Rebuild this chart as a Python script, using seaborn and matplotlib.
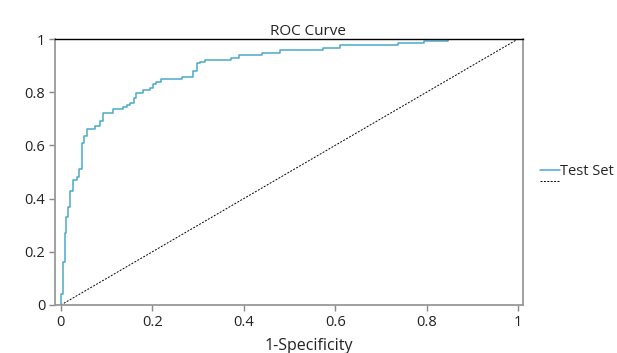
import matplotlib
matplotlib.use("Agg")
import matplotlib.pyplot as plt
import seaborn as sns
import pandas as pd
from matplotlib.lines import Line2D

# ROC points (1-specificity, sensitivity); drawn as steps-post
fpr = [0.0, 0.0, 0.004, 0.008, 0.012, 0.016, 0.020, 0.026, 0.036, 0.040, 0.046,
       0.050, 0.056, 0.074, 0.085, 0.093, 0.114, 0.136, 0.145, 0.152, 0.160,
       0.164, 0.180, 0.195, 0.202, 0.209, 0.220, 0.264, 0.290, 0.297, 0.305,
       0.315, 0.373, 0.390, 0.440, 0.480, 0.574, 0.610, 0.738, 0.794, 0.848, 1.0]
tpr = [0.0, 0.04, 0.16, 0.27, 0.33, 0.37, 0.43, 0.47, 0.48, 0.51, 0.61,
       0.635, 0.66, 0.674, 0.693, 0.723, 0.735, 0.743, 0.752, 0.761, 0.777,
       0.796, 0.808, 0.817, 0.830, 0.840, 0.850, 0.858, 0.878, 0.910, 0.915,
       0.920, 0.930, 0.940, 0.947, 0.958, 0.968, 0.977, 0.985, 0.993, 1.0, 1.0]
diag = [0.0, 1.0]
ticks = [0, 0.2, 0.4, 0.6, 0.8, 1]
tick_labels = ["0", "0.2", "0.4", "0.6", "0.8", "1"]

sns.set_theme(style="white")
plt.rcParams['font.family'] = ['Open Sans', 'DejaVu Sans']

fig = plt.figure(figsize=(6.17, 3.53), dpi=100)
ax = fig.add_axes([0.0891, 0.136, 0.7585, 0.7535])

df = pd.DataFrame({"fpr": fpr, "tpr": tpr})
curve_color = "#4aaac6"
sns.lineplot(data=df, x="fpr", y="tpr", sort=False, estimator=None, ax=ax,
             color=curve_color, linewidth=1.1, drawstyle="steps-post")
sns.lineplot(x=diag, y=diag, ax=ax, color="black", linewidth=0.7,
             linestyle=(0, (2, 1.5)), sort=False, estimator=None)

ax.set_xlim(-0.013, 1.011)
ax.set_ylim(0, 1)
ax.set_xticks(ticks)
ax.set_xticklabels(tick_labels)
ax.set_yticks(ticks)
ax.set_yticklabels(tick_labels)
ax.tick_params(axis="both", which="both", direction="out", length=4, width=1,
               color="#888888", labelsize=10.5, labelcolor="#222222", pad=3,
               bottom=True, left=True)
ax.set_xlabel("1-Specificity", fontsize=11.5, color="#222222")
ax.xaxis.set_label_coords(0.5417, -0.125)
ax.set_ylabel("")
ax.set_title("ROC Curve", fontsize=11, color="#222222", pad=1, x=0.5417)

for side in ["left", "right", "bottom"]:
    ax.spines[side].set_color("#999999")
    ax.spines[side].set_linewidth(1.3)
ax.spines["top"].set_color("black")
ax.spines["top"].set_linewidth(1.0)

handles = [Line2D([0], [0], color=curve_color, linewidth=1.1),
           Line2D([0], [0], color="black", linewidth=0.7, linestyle=(0, (2, 1.5)))]
leg = ax.legend(handles, ["Test Set", ""], loc="center left",
                bbox_to_anchor=(1.036, 0.481), frameon=False, fontsize=10.5,
                handlelength=1.37, handletextpad=0.0, labelspacing=-0.27,
                borderaxespad=0, borderpad=0)

fig.savefig("out.png", dpi=100)
